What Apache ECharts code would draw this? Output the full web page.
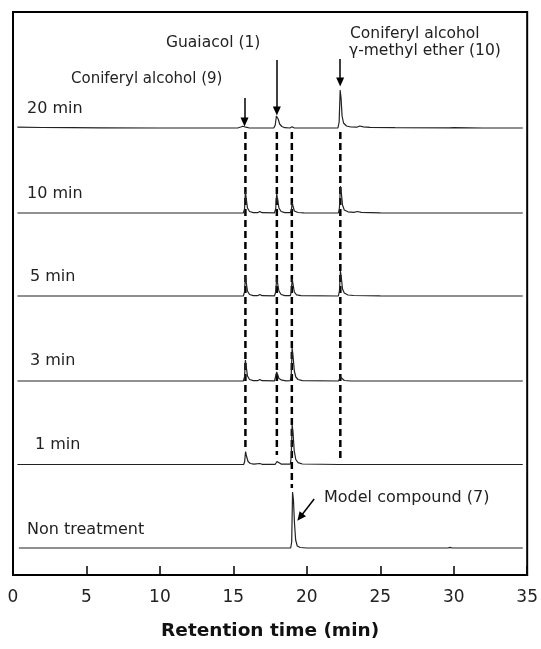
<!DOCTYPE html>
<html>
<head>
<meta charset="utf-8">
<script src="https://cdn.jsdelivr.net/npm/echarts@6/dist/echarts.min.js"></script>
<style>
  html, body { margin: 0; padding: 0; background: #fff; }
  #main { width: 541px; height: 649px; }
</style>
</head>
<body>
<div id="main"></div>
<script>
// chromatograms, [retention time (min), detector response]
var trace20 = [[0.3, 0.8], [2, 0.5], [4, 0.3], [6, 0.2], [10, 0], [15.3, 0], [15.5, 1], [15.65, 1.8], [15.85, 0.8], [16.1, 0],
  [17.75, 0], [17.85, 3], [17.93, 12], [17.98, 13], [18.05, 9], [18.15, 4], [18.3, 1.5], [18.5, 0.3], [18.85, 0], [19.0, 1.2], [19.15, 0],
  [22.12, 0], [22.2, 6], [22.27, 38], [22.33, 30], [22.4, 12], [22.5, 5], [22.7, 2], [23.0, 1], [23.4, 0.8], [23.6, 2], [23.85, 1.2],
  [24.3, 0.6], [26, 0.3], [29.7, 0.2], [30, 0.4], [32, 0], [34.7, 0]];
var trace10 = [[0.3, 0], [15.68, 0], [15.76, 4], [15.82, 21], [15.88, 14], [15.96, 5], [16.1, 1.5], [16.35, 0.4], [16.65, 0.3], [16.8, 1.5], [16.95, 0.3],
  [17.8, 0.2], [17.88, 4], [17.95, 19], [18.02, 13], [18.1, 5], [18.25, 1.5], [18.5, 0.4], [18.88, 0.3], [18.95, 3], [19.0, 10], [19.06, 7], [19.15, 2],
  [19.4, 0.5], [19.8, 0.2], [22.15, 0], [22.22, 5], [22.29, 27], [22.35, 20], [22.43, 8], [22.55, 3], [22.8, 1.2], [23.2, 0.6], [23.45, 1.5],
  [23.7, 0.6], [25, 0.2], [34.7, 0]];
var trace5 = [[0.3, 0], [15.68, 0], [15.76, 4], [15.82, 20], [15.88, 13], [15.96, 5], [16.1, 1.5], [16.35, 0.4], [16.65, 0.3], [16.8, 1.5], [16.95, 0.3],
  [17.8, 0.2], [17.88, 4], [17.95, 18], [18.02, 12], [18.1, 5], [18.25, 1.5], [18.5, 0.4], [18.88, 0.3], [18.94, 4], [19.0, 17], [19.06, 12], [19.15, 4],
  [19.3, 1.2], [19.6, 0.3], [22.15, 0], [22.22, 5], [22.29, 25], [22.35, 18], [22.43, 7], [22.55, 3], [22.8, 1], [23.2, 0.5], [25, 0.2], [34.7, 0]];
var trace3 = [[0.3, 0], [15.68, 0], [15.76, 4], [15.82, 21], [15.88, 14], [15.96, 5], [16.1, 1.5], [16.35, 0.4], [16.65, 0.3], [16.8, 1.5], [16.95, 0.3],
  [17.8, 0.2], [17.88, 2], [17.95, 9], [18.02, 6], [18.1, 2.5], [18.3, 0.8], [18.6, 0.2], [18.88, 0.3], [18.94, 6], [19.0, 33], [19.06, 25], [19.15, 10],
  [19.25, 4], [19.4, 1.5], [19.7, 0.4], [22.15, 0], [22.22, 1.5], [22.29, 4], [22.38, 2], [22.55, 0.5], [23, 0], [34.7, 0]];
var trace1 = [[0.3, 0], [15.7, 0], [15.77, 3], [15.83, 13], [15.9, 8], [16.0, 3], [16.15, 1], [16.4, 0.3], [16.8, 1], [16.95, 0.2],
  [17.85, 0.2], [17.92, 1.5], [17.97, 3], [18.05, 1.5], [18.25, 0.4], [18.88, 0.3], [18.94, 8], [19.0, 40], [19.06, 32], [19.14, 14],
  [19.25, 5], [19.4, 1.8], [19.7, 0.5], [22.2, 0], [22.3, 1], [22.45, 0], [34.7, 0]];
var traceNon = [[0.4, 0], [18.9, 0], [18.97, 6], [19.03, 56], [19.09, 48], [19.16, 25], [19.24, 8], [19.35, 2], [19.55, 0.5], [20, 0],
  [29.6, 0], [29.75, 0.6], [29.9, 0], [34.7, 0]];

var traceNames = ['20 min', '10 min', '5 min', '3 min', '1 min', 'Non treatment'];
var traces = [trace20, trace10, trace5, trace3, trace1, traceNon];

// peaks followed between the runs (min)
var peakTimes = [15.82, 17.96, 18.98, 22.28];
var xTicks = [0, 5, 10, 15, 20, 25, 30, 35];

// layout: vertical offset of every run, in y units (1 unit = 1 px)
var offsets = [447, 362, 279, 194, 110.5, 27];
var dashTop = 443;
var dashBottoms = [125, 120, 87, 113];

var FONT = 'DejaVu Sans';
var myChart = echarts.init(document.getElementById('main'));

var series = traces.map(function (tr, i) {
  return {
    type: 'line',
    name: traceNames[i],
    data: tr.map(function (p) { return [p[0], p[1] + offsets[i]]; }),
    symbol: 'none',
    lineStyle: { color: '#222', width: 1.2 },
    z: 3
  };
});

peakTimes.forEach(function (t, i) {
  series.push({
    type: 'line',
    data: [[t, dashTop], [t, dashBottoms[i]]],
    symbol: 'none',
    lineStyle: { color: '#000', width: 2.5, type: [7, 4] },
    z: 2
  });
});

// arrows pointing at the labelled peaks
function arrow(x1, y1, x2, y2) {
  return [{ coord: [x1, y1] }, { coord: [x2, y2] }];
}
series.push({
  type: 'line',
  data: [],
  markLine: {
    silent: true,
    symbol: ['none', 'triangle'],
    symbolSize: [8, 9],
    label: { show: false },
    lineStyle: { color: '#000', width: 1.5, type: 'solid' },
    data: [
      arrow(15.76, 477, 15.76, 453),
      arrow(17.96, 515, 17.96, 464),
      arrow(22.27, 516, 22.27, 493),
      arrow(20.5, 76, 19.54, 57.7)
    ]
  }
});

var textStyle = { fill: '#222', fontFamily: FONT, fontSize: 16 };
function label(x, y, text, size) {
  return {
    type: 'text', x: x, y: y,
    style: Object.assign({}, textStyle, { text: text, fontSize: size || 16, verticalAlign: 'middle' })
  };
}
var labelX = [27, 27, 30, 30, 35, 27];
var labelY = [109, 194, 277, 361, 445, 530];
var graphics = traceNames.map(function (n, i) { return label(labelX[i], labelY[i], n, 16); });
graphics.push(label(166, 42.7, 'Guaiacol (1)', 15.5));
graphics.push(label(71, 79, 'Coniferyl alcohol (9)', 15));
graphics.push(label(350, 34, 'Coniferyl alcohol', 15.5));
graphics.push(label(349, 51, 'γ-methyl ether (10)', 15.5));
graphics.push(label(324, 497.7, 'Model compound (7)', 16));

myChart.setOption({
  animation: false,
  grid: {
    left: 13, right: 13, top: 12, bottom: 74,
    show: true, borderColor: '#000', borderWidth: 2
  },
  xAxis: {
    type: 'value',
    min: 0, max: 35, interval: 5,
    name: 'Retention time (min)',
    nameLocation: 'middle',
    nameGap: 47,
    nameTextStyle: { fontFamily: FONT, fontSize: 18.5, fontWeight: 'bold', color: '#111' },
    axisLine: { lineStyle: { color: '#000', width: 2 } },
    axisTick: { inside: true, length: 9, lineStyle: { color: '#000', width: 1.5 } },
    axisLabel: {
      fontFamily: FONT, fontSize: 17, color: '#222', margin: 14,
      formatter: function (v) { return xTicks.indexOf(v) >= 0 ? String(v) : ''; }
    },
    splitLine: { show: false }
  },
  yAxis: { type: 'value', min: 0, max: 563, show: false },
  graphic: graphics,
  series: series
});
</script>
</body>
</html>
